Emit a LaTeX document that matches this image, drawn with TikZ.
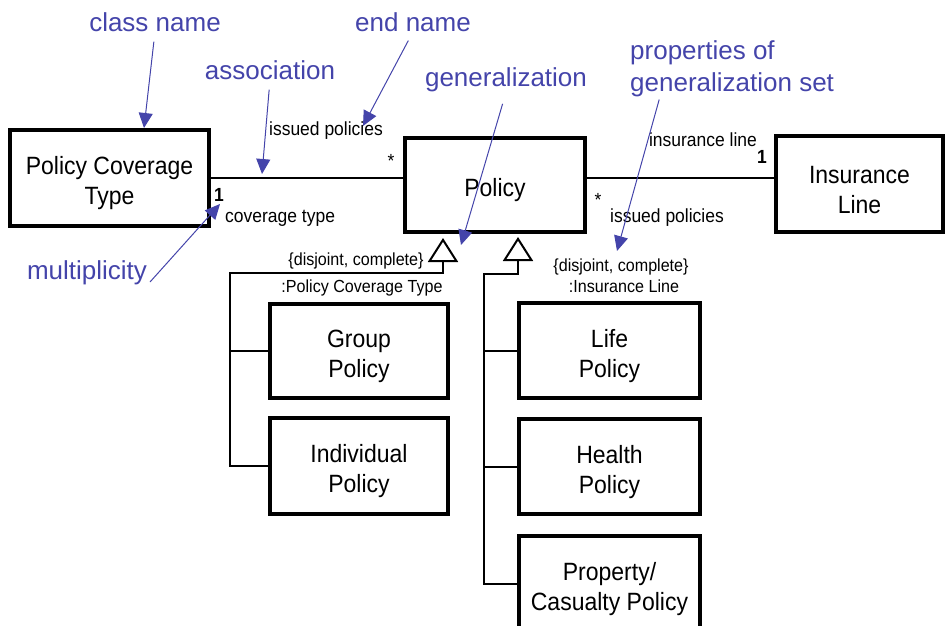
\documentclass[tikz,border=0pt]{standalone}
\usepackage{fontspec}
\setmainfont{Liberation Sans}
\newfontfamily\narrowfont{Liberation Sans}[FakeStretch=0.92]
\usetikzlibrary{arrows.meta}
\definecolor{notecol}{RGB}{68,68,170}
% tall strut on the first line lowers the class names inside their boxes
\newcommand\topstrut{\rule{0pt}{29pt}}
\begin{document}
\begin{tikzpicture}[x=1pt,y=-1pt,
  classbox/.style={draw,line width=3.5pt,align=center,inner sep=0pt,
    font=\narrowfont\fontsize{25}{30}\selectfont},
  endlabel/.style={inner sep=0pt,font=\narrowfont\fontsize{19}{22}\selectfont},
  setlabel/.style={inner sep=0pt,font=\narrowfont\fontsize{17.5}{20}\selectfont},
  multlabel/.style={inner sep=0pt,font=\narrowfont\bfseries\fontsize{19}{22}\selectfont},
  link/.style={line width=2pt},
  genlink/.style={line width=2pt,-{Triangle[open,length=24pt,width=30pt]}},
  note/.style={text=notecol,inner sep=0pt,font=\fontsize{26}{32}\selectfont},
  pointer/.style={draw=notecol,line width=1pt,-{Triangle[length=15pt,width=14pt]}},
]
\useasboundingbox (0,0) rectangle (945,625);
\clip (0,0) rectangle (945,625);

% classes
\node[classbox,minimum width=199pt,minimum height=96pt] (pct) at (109.5,178) {\topstrut Policy Coverage\\Type};
\node[classbox,minimum width=180pt,minimum height=94pt] (pol) at (495,185) {\topstrut Policy};
\node[classbox,minimum width=167pt,minimum height=96pt] (ins) at (859.5,184) {\topstrut Insurance\\Line};
\node[classbox,minimum width=178pt,minimum height=94pt] (grp) at (359,351) {\topstrut Group\\Policy};
\node[classbox,minimum width=178pt,minimum height=96pt] (ind) at (359,466) {\topstrut Individual\\Policy};
\node[classbox,minimum width=181pt,minimum height=95pt] (life) at (609.5,350.5) {\topstrut Life\\Policy};
\node[classbox,minimum width=181pt,minimum height=95pt] (hlth) at (609.5,466.5) {\topstrut Health\\Policy};
\node[classbox,minimum width=181pt,minimum height=95pt] (prop) at (609.5,583.5) {\topstrut Property/\\Casualty Policy};

% associations
\draw[link] (pct.east) -- (pct.east -| pol.west);
\draw[link] (pol.east |- pct.east) -- (pct.east -| ins.west);

% generalization sets
\coordinate (apexA) at (443,238);
\coordinate (busA) at (230,273);
\draw[genlink] (ind.west) -| (busA) -| (apexA);
\draw[link] (grp.west) -- (grp.west -| busA);

\coordinate (apexB) at (518,237);
\coordinate (busB) at (484,274);
\draw[genlink] (prop.west) -| (busB) -| (apexB);
\draw[link] (life.west) -- (life.west -| busB);
\draw[link] (hlth.west) -- (hlth.west -| busB);

% association ends
\node[multlabel] (m1) at (219,195) {1};
\node[endlabel,anchor=west] (e1) at (225,218) {coverage type};
\node[endlabel] (e2) at (326,131) {issued policies};
\node[endlabel] (s1) at (391,161) {*};
\node[endlabel] (s2) at (598,200) {*};
\node[endlabel] (e3) at (667,218) {issued policies};
\node[endlabel] (e4) at (703,140) {insurance line};
\node[multlabel] (m2) at (762,157) {1};

% generalization set properties
\node[setlabel] (gsA) at (356,261) {\{disjoint, complete\}};
\node[setlabel] (gtA) at (362,288) {:Policy Coverage Type};
\node[setlabel] (gsB) at (621,267) {\{disjoint, complete\}};
\node[setlabel] (gtB) at (624,286) {:Insurance Line};

% annotations
\node[note] (nClass) at (155,22) {class name};
\node[note] (nEnd) at (413,22) {end name};
\node[note] (nAssoc) at (270,70) {association};
\node[note] (nGen) at (506,80) {generalization};
\node[note,align=left,anchor=north west] (nProp) at (630,40) {properties of\\generalization set};
\node[note] (nMult) at (87,273) {multiplicity};

\coordinate (tClass) at (144,128);
\coordinate (tAssoc) at (262,174);
\coordinate (tEnd) at (363,126);
\coordinate (tGen) at (461,245);
\coordinate (tProp) at (617,251);
\coordinate (tMult) at (220,204);
\coordinate (sMult) at (150,282);

\draw[pointer,shorten <=10pt] (nClass.south) -- (tClass);
\draw[pointer,shorten <=10pt] (nAssoc.south) -- (tAssoc);
\draw[pointer,shorten <=10pt] (nEnd.south) -- (tEnd);
\draw[pointer,shorten <=12pt] (nGen.south) -- (tGen);
\draw[pointer,shorten <=3pt] (nProp.south west) ++(30,0) coordinate (sProp) -- (tProp);
\draw[pointer] (sMult) -- (tMult);
\end{tikzpicture}
\end{document}
